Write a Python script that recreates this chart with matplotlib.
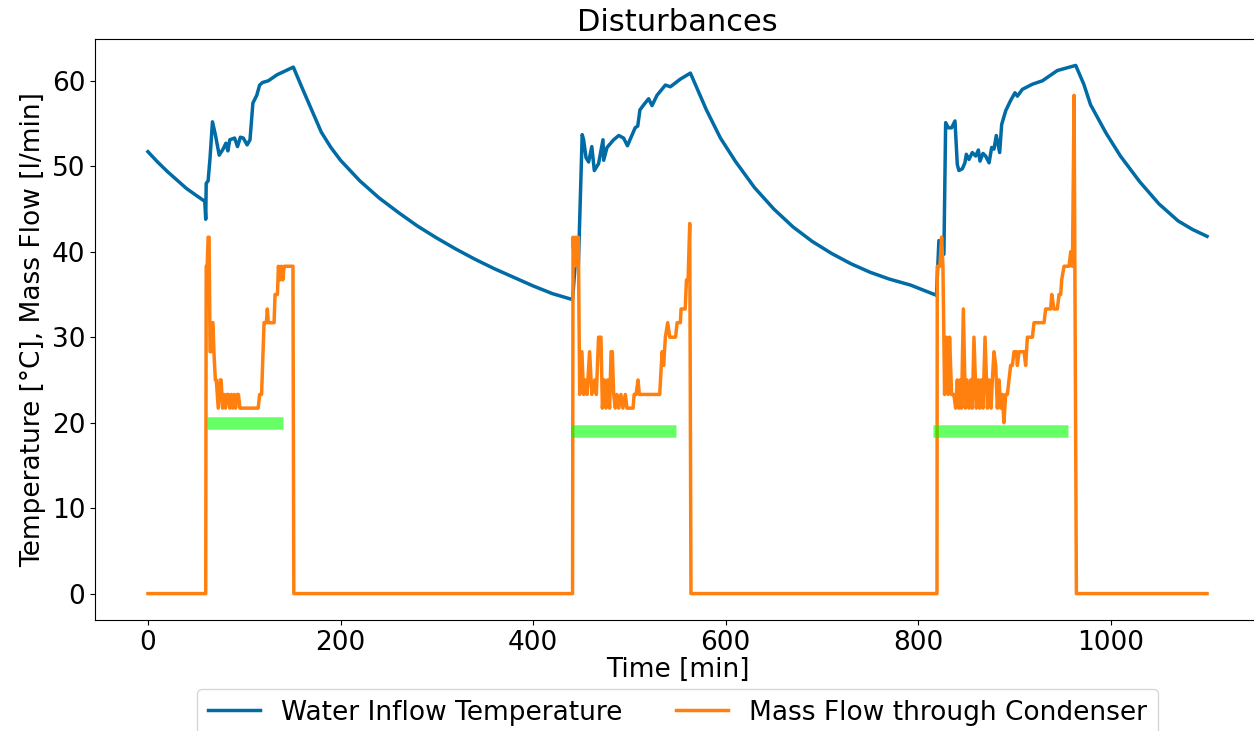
import matplotlib
matplotlib.use("Agg")
import matplotlib.pyplot as plt

# water inflow temperature [°C]
t_temp = [0, 10, 20, 30, 40, 50, 59, 60, 60.5, 62.5, 64.5, 67, 70, 74, 78, 81, 83, 85, 90, 93, 96,
          99, 103, 106, 109, 113, 116, 119, 125, 134, 149, 151,
          160, 170, 180, 190, 200, 220, 240, 260, 280, 300, 320, 340, 360, 380, 400, 420, 441,
          444, 447, 451, 452.5, 455, 457.7, 461, 463.6, 468, 472.6, 473.3, 476.8, 483.7, 489,
          494, 498, 506, 508.7, 511, 515, 520, 523.5, 528.7, 537.4, 542.6, 553, 563.4,
          570, 580, 594.6, 610, 630, 650, 670, 690, 710, 730, 750, 770, 792, 819,
          821.5, 826.7, 828.5, 831.3, 834.7, 838.2, 840.6, 842.3, 845.8, 848.5, 850, 852.7,
          856.2, 859.7, 862.5, 864.2, 867.3, 870, 873.6, 876.3, 878.7, 881.1, 883.2, 884.6,
          886.7, 890.9, 896, 900.5, 903, 908.2, 918.6, 929, 944.5, 963.6,
          972, 979, 995, 1010, 1030, 1050, 1070, 1085, 1100]
temp = [51.7, 50.5, 49.4, 48.4, 47.4, 46.6, 45.9, 43.8, 48.0, 48.3, 51.0, 55.2, 53.7, 51.3, 52.0, 52.7, 51.8, 53.1, 53.3, 52.3, 53.4,
        53.3, 52.5, 53.1, 57.4, 58.3, 59.5, 59.8, 60.0, 60.7, 61.5, 61.6,
        59.2, 56.6, 54.0, 52.2, 50.7, 48.3, 46.3, 44.6, 43.0, 41.6, 40.3, 39.1, 38.0, 37.0, 36.0, 35.1, 34.4,
        38.9, 38.2, 53.7, 53.1, 51.0, 50.5, 52.3, 49.5, 50.3, 53.1, 50.7, 52.2, 53.1, 53.6,
        53.3, 52.4, 54.5, 54.7, 56.6, 57.2, 57.9, 57.1, 58.3, 59.5, 59.3, 60.2, 60.9,
        59.2, 56.6, 53.3, 50.6, 47.5, 45.0, 42.9, 41.2, 39.8, 38.6, 37.6, 36.8, 36.1, 34.9,
        41.3, 39.7, 55.1, 54.5, 54.5, 55.3, 50.2, 49.5, 49.7, 50.4, 51.4, 50.8,
        51.6, 51.2, 51.9, 50.6, 51.5, 51.2, 50.4, 52.2, 52.0, 53.6, 52.4, 51.6,
        54.9, 56.5, 57.7, 58.6, 58.2, 59.0, 59.6, 60.0, 61.2, 61.8,
        59.6, 57.2, 53.9, 51.2, 48.2, 45.6, 43.6, 42.6, 41.8]

# mass flow through condenser [l/min]
t_flow = [0, 60, 60.5, 61.5, 62.5, 63.5, 64.5, 65.5, 66.5, 67.5, 68.5, 70, 71, 73, 75, 76, 77.5,
          79, 80.5, 82, 83.5, 85, 86.5, 88, 89.5, 91, 92.5, 94, 95.5, 97.8, 114.5, 116, 118,
          120.6, 123, 124, 125, 131, 132, 134.5, 135.5, 137, 138.5, 140, 141.5, 143, 150.6, 151.5,
          441, 441.5, 443, 444.5, 446, 447, 448.4, 450.7, 452.5, 454, 456, 458.7, 461, 464,
          465.7, 468, 470.5, 472, 474, 475.8, 477.5, 479.5, 481, 482.3, 483.7, 485.4, 487,
          489, 491.2, 493.3, 495.8, 497.5, 503.8, 505, 507, 509, 510.4, 531.5, 534, 535.6,
          537.4, 539.8, 542, 548, 549.6, 553, 553.7, 558, 559.3, 561, 562.7, 564,
          819.5, 819.8, 822.5, 824.3, 825.7, 827.4, 829.5, 831.3, 832.6, 834.7, 837, 838.9,
          840.6, 842.3, 843.7, 845, 846.9, 849, 850.6, 852.7, 854.5, 856.2, 857.9, 860.4,
          862.5, 863.8, 865.6, 867.3, 869.4, 871.9, 873.6, 875.7, 877, 878.7, 880.5, 882.2,
          883.9, 885.7, 887.4, 889, 890.9, 892.6, 894.3, 896, 897.8, 899.5, 902, 903, 904.7,
          910, 911.6, 913.4, 918.6, 920.3, 930.7, 932.4, 937.6, 938.7, 941, 944.5, 946.3,
          948, 949, 951.5, 956.7, 958.4, 960.2, 961.9, 964.3, 1100]
flow = [0, 0, 38.3, 38.3, 41.7, 41.7, 28.3, 28.3, 31.7, 31.7, 28.3, 25, 25, 21.7, 25, 25, 21.7,
        23.3, 21.7, 23.3, 23.3, 21.7, 23.3, 21.7, 23.3, 21.7, 23.3, 23.3, 21.7, 21.7, 21.7, 23.3, 23.3,
        31.7, 31.7, 33.3, 31.7, 31.7, 35, 35, 38.3, 36.7, 38.3, 36.7, 38.3, 38.3, 38.3, 0,
        0, 41.7, 38.3, 41.7, 38.3, 41.7, 23.3, 28.3, 23.3, 25, 23.3, 28.3, 23.3, 25,
        23.3, 30, 30, 21.7, 25, 21.7, 25, 21.7, 28.3, 28.3, 23.3, 21.7, 23.3,
        21.7, 23.3, 21.7, 23.3, 21.7, 21.7, 23.3, 23.3, 25, 23.3, 23.3, 28.3, 26.7,
        30, 31.7, 30, 30, 31.7, 31.7, 33.3, 33.3, 36.7, 36.7, 43.3, 0,
        0, 38.3, 38.3, 41.7, 38.3, 23.3, 30, 23.3, 30, 23.3, 23.3, 21.7,
        25, 21.7, 25, 21.7, 33.3, 21.7, 25, 21.7, 25, 21.7, 30, 21.7,
        25, 21.7, 25, 21.7, 30, 21.7, 25, 21.7, 25, 28.3, 26.7, 21.7,
        25, 21.7, 23.3, 20, 23.3, 23.3, 25, 26.7, 26.7, 28.3, 28.3, 26.7, 28.3,
        28.3, 26.7, 30, 30, 31.7, 31.7, 33.3, 33.3, 35, 33.3, 33.3, 35,
        35, 36.7, 38.3, 38.3, 40, 38.3, 58.3, 0, 0]

# green bars: start, end, level
bar_start = [61, 439, 815]
bar_end = [140, 548, 956]
bar_level = [20, 19, 19]

blue = "#006BA4"
orange = "#FF800E"

fig = plt.figure(figsize=(12.54, 7.31), dpi=100)
# the right spine sits just past the figure edge, as in the original crop
ax = fig.add_axes([95 / 1254, 111 / 731, 1165 / 1254, 581 / 731])

ax.plot(t_temp, temp, color=blue, lw=2.5, label="Water Inflow Temperature")
ax.plot(t_flow, flow, color=orange, lw=2.5, label="Mass Flow through Condenser")
for s, e, lv in zip(bar_start, bar_end, bar_level):
    ax.plot([s, e], [lv, lv], color="lime", alpha=0.6, lw=9, solid_capstyle="butt")

ax.set_xlim(-55, 1155)
ax.set_title("Disturbances", fontsize=22)
ax.set_xlabel("Time [min]", fontsize=19, labelpad=1)
ax.set_ylabel("Temperature [°C], Mass Flow [l/min]", fontsize=19)
ax.tick_params(labelsize=19)
ax.legend(loc="upper center", bbox_to_anchor=(0.5, -0.096), ncol=2, fontsize=19)

fig.savefig("out.png", dpi=100)
